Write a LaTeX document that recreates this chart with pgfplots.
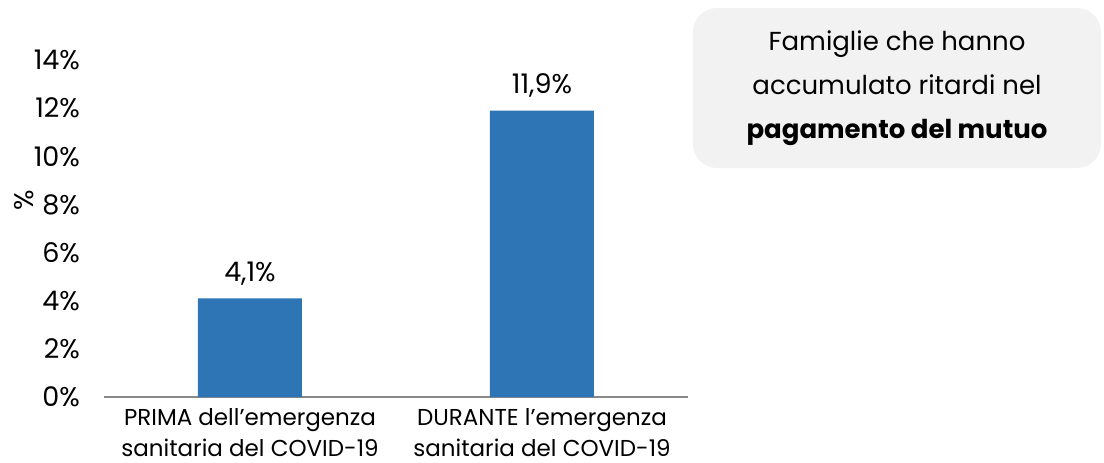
\documentclass[border=0pt]{standalone}
\usepackage{pgfplots}
\pgfplotsset{compat=1.18}
\usepackage{fontspec}
\setmainfont{Poppins}
\definecolor{barblue}{HTML}{2E75B6}
\definecolor{boxgray}{HTML}{F2F2F2}
\definecolor{axgray}{HTML}{898989}
\begin{document}
\begin{tikzpicture}[x=1pt,y=1pt]
\useasboundingbox (-52,-32.5) rectangle (500,198.5);
\begin{axis}[
  at={(0,0)}, anchor=south west,
  scale only axis, width=292pt, height=168.5pt,
  xmin=-0.5, xmax=1.5, ymin=0, ymax=14,
  axis x line=bottom, axis y line=left,
  x axis line style={draw=axgray, line width=1.2pt, -},
  y axis line style={draw=none},
  major tick length=0pt,
  /pgf/number format/assume math mode=true,
  xtick={0,1},
  xticklabels={{PRIMA dell'emergenza\\sanitaria del COVID-19},{DURANTE l'emergenza\\sanitaria del COVID-19}},
  xticklabel style={align=center, font=\fontsize{11.5}{15.5}\selectfont, yshift=-2pt},
  ytick={0,2,4,6,8,10,12,14},
  yticklabels={0\%,2\%,4\%,6\%,8\%,10\%,12\%,14\%},
  yticklabel style={font=\fontsize{13.5}{16}\selectfont, xshift=-8.5pt},
  ybar, bar width=52pt,
  nodes near coords={\pgfmathprintnumber[fixed,precision=1,zerofill,use comma,assume math mode=true]{\pgfplotspointmeta}\%},
  nodes near coords style={font=\fontsize{13.5}{16}\selectfont, yshift=3pt},
  clip=false,
]
\addplot[fill=barblue, draw=none] coordinates {(0,4.1) (1,11.9)};
\node[rotate=90, font=\fontsize{13.5}{16}\selectfont] at ([xshift=-40pt]rel axis cs:0,0.585) {\%};
\end{axis}
\node[fill=boxgray, rounded corners=12pt, minimum width=204pt, minimum height=80pt, inner sep=0pt] at (396.5,154.5) {};
\node[align=center, font=\fontsize{13}{22}\selectfont] at (396.5,154.5) {Famiglie che hanno\\accumulato ritardi nel\\\textbf{pagamento del mutuo}};
\end{tikzpicture}
\end{document}
